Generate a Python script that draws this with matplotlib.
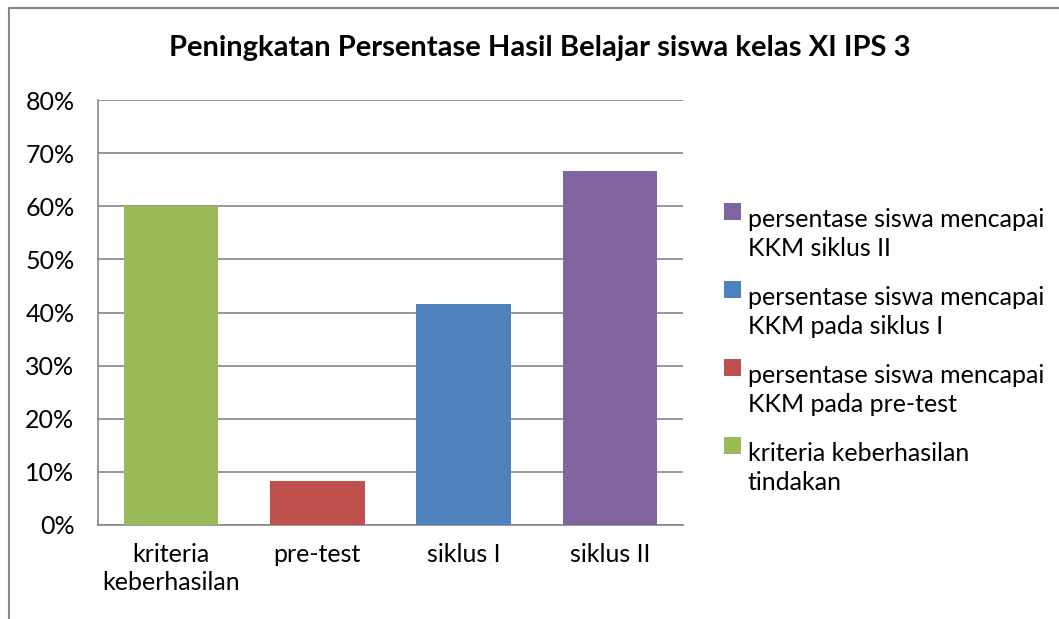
import matplotlib
matplotlib.use("Agg")
import matplotlib.pyplot as plt
from matplotlib.lines import Line2D
from matplotlib.patches import Rectangle
from matplotlib.legend_handler import HandlerPatch
from matplotlib.ticker import PercentFormatter

# ==========================================
# DATA
# ==========================================
categories = ["kriteria\nkeberhasilan", "pre-test", "siklus I", "siklus II"]
values = [0.60, 0.0833, 0.4167, 0.6667]
series_labels = [
  "kriteria keberhasilan\ntindakan",
  "persentase siswa mencapai\nKKM pada pre-test",
  "persentase siswa mencapai\nKKM pada siklus I",
  "persentase siswa mencapai\nKKM siklus II",
]
colors = ["#9BBB59", "#C0504D", "#4F81BD", "#8064A2"]
title = "Peningkatan Persentase Hasil Belajar siswa kelas XI IPS 3"
yticks = [0, 0.1, 0.2, 0.3, 0.4, 0.5, 0.6, 0.7, 0.8]

plt.rcParams['font.family'] = ['Lato', 'DejaVu Sans']
GRAY = "#868686"
LINE_STEP = 16.5  # points, legend marker sits next to the first text line

fig = plt.figure(figsize=(10.59, 6.19), dpi=100)
ax = fig.add_axes([98 / 1059, 94 / 619, 585 / 1059, 425 / 619])

# one bar per series so each gets its own legend entry
handles = []
for i, (v, lab, c) in enumerate(zip(values, series_labels, colors)):
  bars = ax.bar(i, v, width=0.645, color=c, label=lab, zorder=3)
  handles.append(bars.patches[0])

ax.set_xlim(-0.5, len(categories) - 0.5)
ax.set_ylim(0, 0.8)
ax.set_yticks(yticks)
ax.yaxis.set_major_formatter(PercentFormatter(1.0, decimals=0))
ax.set_xticks(range(len(categories)))
ax.set_xticklabels(categories, fontsize=18, linespacing=1.25)
ax.tick_params(axis='y', labelsize=18, length=0, pad=17)
ax.tick_params(axis='x', length=0, pad=13)

ax.grid(axis='y', color=GRAY, linewidth=1.2, zorder=0)
for side in ['top', 'right']:
  ax.spines[side].set_visible(False)
for side in ['left', 'bottom']:
  ax.spines[side].set_color(GRAY)
  ax.spines[side].set_linewidth(1.2)

fig.text(540 / 1059, 1 - 48 / 619, title, fontsize=21, fontweight='bold',
         ha='center', va='center')


def top_square(legend, orig_handle, xdescent, ydescent, width, height, fontsize):
  # shift the square up to the first line of a two-line label
  return Rectangle((-xdescent, -ydescent + LINE_STEP), width, height)


# legend in reverse order, like Excel
leg = fig.legend(handles[::-1], series_labels[::-1], loc='upper left',
                 bbox_to_anchor=(714 / 1059, 1 - 198 / 619), frameon=False,
                 fontsize=18, handlelength=0.66, handleheight=0.66,
                 handletextpad=0.3, labelspacing=1.05, borderaxespad=0,
                 handler_map={Rectangle: HandlerPatch(patch_func=top_square)})
for t in leg.get_texts():
  t.set_linespacing(1.3)

# chart-area border (only top and left visible in the crop)
x0, y0 = 9 / 1059, 1 - 8 / 619
fig.add_artist(Line2D([x0, x0, 1.0], [0.0, y0, y0], transform=fig.transFigure,
                      color=GRAY, linewidth=1.5))

fig.savefig("out.png", dpi=100, facecolor='white')
